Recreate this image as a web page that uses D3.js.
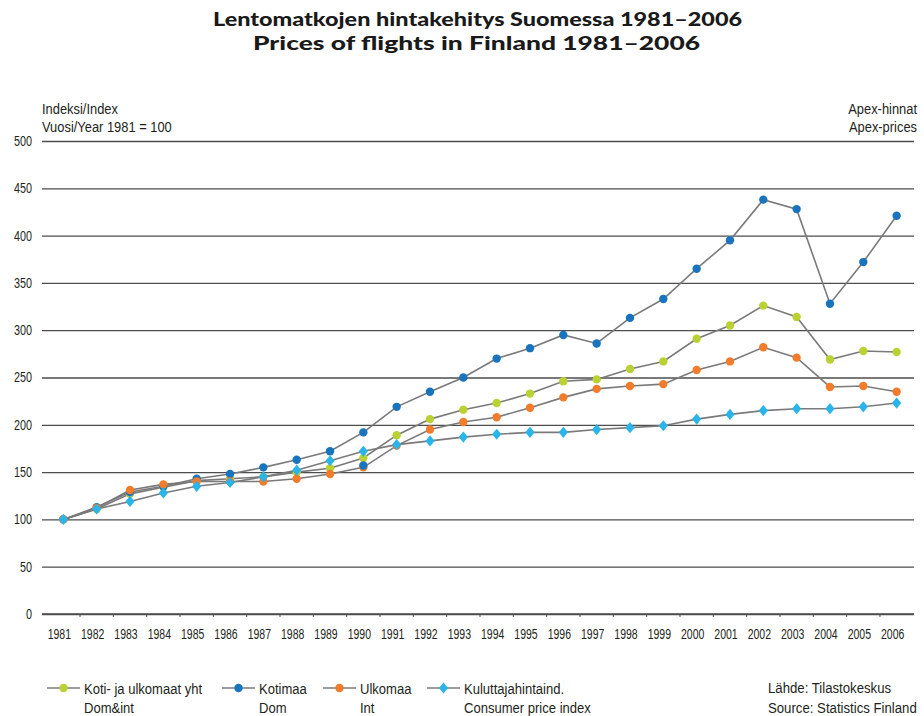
<!DOCTYPE html>
<html>
<head>
<meta charset="utf-8">
<script src="https://cdn.jsdelivr.net/npm/d3@7"></script>
<style>
  html, body { margin: 0; padding: 0; background: #fff; }
  svg { display: block; }
  .narrow { font-family: "Liberation Sans", Arial, sans-serif; fill: #231f20; }
  .title { font-family: "Lato", "Open Sans", sans-serif; font-weight: 900; fill: #1a1a1a; }
</style>
</head>
<body>
<svg id="chart" width="924" height="716"></svg>
<script>
// Year categories (x axis)
const years = [1981, 1982, 1983, 1984, 1985, 1986, 1987, 1988, 1989, 1990,
               1991, 1992, 1993, 1994, 1995, 1996, 1997, 1998, 1999, 2000,
               2001, 2002, 2003, 2004, 2005, 2006];

// Index values, 1981 = 100
const domInt = [100, 111, 127, 134, 141, 143, 145, 150, 154, 165,
                189, 206, 216, 223, 233, 246, 248, 259, 267, 291,
                305, 326, 314, 269, 278, 277];
const dom    = [100, 113, 129, 135, 143, 148, 155, 163, 172, 192,
                219, 235, 250, 270, 281, 295, 286, 313, 333, 365,
                395, 438, 428, 328, 372, 421];
const intl   = [100, 112, 131, 137, 140, 140, 140, 143, 148, 155,
                178, 195, 203, 208, 218, 229, 238, 241, 243, 258,
                267, 282, 271, 240, 241, 235];
const cpi    = [100, 111, 119, 128, 135, 139, 145, 152, 162, 172,
                179, 183, 187, 190, 192, 192, 195, 197, 199, 206,
                211, 215, 217, 217, 219, 223];
// Domestic series, second 1990 observation
const domLinkYears  = [1990];
const domLinkValues = [157];

const yTicks = [0, 50, 100, 150, 200, 250, 300, 350, 400, 450, 500];

const seriesNames = [
  ["Koti- ja ulkomaat yht", "Dom&int"],
  ["Kotimaa", "Dom"],
  ["Ulkomaa", "Int"],
  ["Kuluttajahintaind.", "Consumer price index"]
];

const colors = { domInt: "#b9d132", dom: "#1a74bd", intl: "#f27b2c", cpi: "#29b4ea" };

const svg = d3.select("#chart");

// Narrow the type horizontally (condensed look) while keeping anchor points in place
function condense(sel, k) {
  sel.each(function () {
    const t = d3.select(this);
    const x0 = +(t.attr("x") || 0);
    const dx = t.attr("dx");
    t.attr("x", x0 / k).attr("transform", `scale(${k},1)`);
    if (dx !== null) t.attr("dx", parseFloat(dx) / k);
  });
}

// Scales
const x = d3.scaleBand().domain(years).range([46.7, 913.3]).padding(0);
const y = d3.scaleLinear().domain([0, 500]).range([614, 141]);
const cx = d => x(d) + x.bandwidth() / 2;

// Titles
svg.append("text").attr("class", "title").attr("x", 477.5).attr("y", 26)
  .attr("text-anchor", "middle").attr("font-size", 19.5)
  .attr("textLength", 529).attr("lengthAdjust", "spacingAndGlyphs")
  .text("Lentomatkojen hintakehitys Suomessa 1981–2006");
svg.append("text").attr("class", "title").attr("x", 476.5).attr("y", 50)
  .attr("text-anchor", "middle").attr("font-size", 19.5)
  .attr("textLength", 447).attr("lengthAdjust", "spacingAndGlyphs")
  .text("Prices of flights in Finland 1981–2006");

// Unit notes
const notes = svg.append("g");
notes.append("text").attr("class", "narrow").attr("x", 42).attr("y", 114).text("Indeksi/Index");
notes.append("text").attr("class", "narrow").attr("x", 42).attr("y", 132).text("Vuosi/Year 1981 = 100");
notes.append("text").attr("class", "narrow").attr("x", 917).attr("y", 114).attr("text-anchor", "end").text("Apex-hinnat");
notes.append("text").attr("class", "narrow").attr("x", 917).attr("y", 132).attr("text-anchor", "end").text("Apex-prices");
notes.selectAll("text").attr("font-size", 15);
condense(notes.selectAll("text"), 0.86);

// Horizontal grid + y labels
const yAxis = svg.append("g").attr("transform", "translate(42,0)")
  .call(d3.axisLeft(y).tickValues(yTicks).tickSize(-872).tickPadding(10));
yAxis.select(".domain").remove();
yAxis.selectAll(".tick line").attr("stroke", "#4d4d4d").attr("stroke-width", 1.3);
yAxis.selectAll(".tick text").attr("class", "narrow").attr("font-size", 14).attr("fill", "#231f20");
condense(yAxis.selectAll(".tick text"), 0.77);

// X axis: ticks between year bands
const xAxis = svg.append("g").attr("transform", "translate(0,614)")
  .call(d3.axisBottom(x).tickSize(3).tickPadding(12));
xAxis.select(".domain").remove();
xAxis.selectAll(".tick line")
  .attr("transform", `translate(${x.bandwidth() / 2},0)`)
  .attr("stroke", "#4d4d4d")
  .attr("display", (d, i) => i === years.length - 1 ? "none" : null);
xAxis.selectAll(".tick text").attr("class", "narrow").attr("font-size", 14)
  .attr("fill", "#231f20").attr("dx", -4);
condense(xAxis.selectAll(".tick text"), 0.75);

// Marker shapes
const diamond = {
  draw(ctx, size) {
    const w = 4.6, h = 5.6;
    ctx.moveTo(0, -h); ctx.lineTo(w, 0); ctx.lineTo(0, h); ctx.lineTo(-w, 0); ctx.closePath();
  }
};

const line = d3.line().x((d, i) => cx(years[i])).y(d => y(d));
const plot = svg.append("g");

function drawSeries(values, color, shape) {
  const g = plot.append("g");
  g.append("path").datum(values).attr("d", line)
    .attr("fill", "none").attr("stroke", "#7a7a7a").attr("stroke-width", 1.6);
  if (shape === "circle") {
    g.selectAll("circle").data(values).join("circle")
      .attr("cx", (d, i) => cx(years[i])).attr("cy", d => y(d))
      .attr("r", 4.2).attr("fill", color);
  } else {
    g.selectAll("path.m").data(values).join("path").attr("class", "m")
      .attr("d", d3.symbol().type(diamond))
      .attr("transform", (d, i) => `translate(${cx(years[i])},${y(d)})`)
      .attr("fill", color);
  }
}

drawSeries(domInt, colors.domInt, "circle");
drawSeries(dom, colors.dom, "circle");
drawSeries(intl, colors.intl, "circle");
plot.append("g").selectAll("circle").data(domLinkValues).join("circle")
  .attr("cx", (d, i) => cx(domLinkYears[i])).attr("cy", d => y(d))
  .attr("r", 4.2).attr("fill", colors.dom);
drawSeries(cpi, colors.cpi, "diamond");

// Zero baseline
svg.append("line").attr("x1", 42).attr("x2", 914).attr("y1", y(0)).attr("y2", y(0))
  .attr("stroke", "#4d4d4d").attr("stroke-width", 1.3);

// Legend
const legendX = [47, 222, 323, 427];
const legendColors = [colors.domInt, colors.dom, colors.intl, colors.cpi];
const legend = svg.append("g");
seriesNames.forEach((names, i) => {
  const g = legend.append("g").attr("transform", `translate(${legendX[i]},688)`);
  g.append("line").attr("x1", 0).attr("x2", 33).attr("y1", 0).attr("y2", 0)
    .attr("stroke", "#7a7a7a").attr("stroke-width", 1.6);
  if (i < 3) {
    g.append("circle").attr("cx", 16.5).attr("cy", 0).attr("r", 4.2).attr("fill", legendColors[i]);
  } else {
    g.append("path").attr("d", d3.symbol().type(diamond)).attr("transform", "translate(16.5,0)").attr("fill", legendColors[i]);
  }
  g.append("text").attr("class", "narrow").attr("x", 37).attr("y", 5.5).text(names[0]);
  g.append("text").attr("class", "narrow").attr("x", 37).attr("y", 25.5).text(names[1]);
});
legend.selectAll("text").attr("font-size", 15);
condense(legend.selectAll("text"), 0.87);

// Source
const source = svg.append("g");
source.append("text").attr("class", "narrow").attr("x", 768).attr("y", 693.5).text("Lähde: Tilastokeskus");
source.append("text").attr("class", "narrow").attr("x", 768).attr("y", 713.5).text("Source: Statistics Finland");
source.selectAll("text").attr("font-size", 15);
condense(source.selectAll("text"), 0.88);
</script>
</body>
</html>
